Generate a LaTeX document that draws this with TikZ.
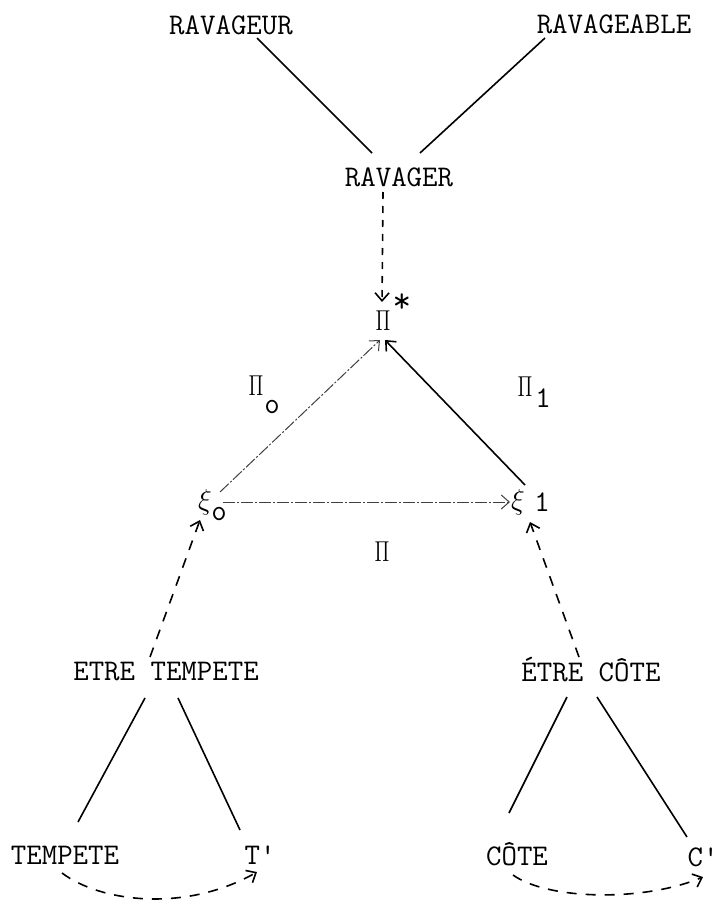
\documentclass[tikz,border=0pt]{standalone}
\usepackage{graphicx}
\usetikzlibrary{positioning, arrows.meta}

\newcommand{\narrowpi}{\scalebox{0.7}[1.0]{\(\Pi\)}}

\begin{document}
\begin{tikzpicture}[x=0.5pt, y=-0.5pt, line width=0.8pt,
  every node/.style={font=\ttfamily\fontsize{15}{18}\selectfont, inner sep=0pt},
  arrowtip/.style={-{Straight Barb[length=4pt,width=7pt]}},
  dashedarrow/.style={arrowtip, dash pattern=on 5pt off 4.5pt},
  faint/.style={line width=0.5pt, black!75, dash pattern=on 6pt off 1pt on 1pt off 1pt}]
  \useasboundingbox (0,0) rectangle (717,904);

  % top of the diagram
  \node (ravageur) at (231,25) {RAVAGEUR};
  \node (ravageable) at (614,24) {RAVAGEABLE};
  \node (ravager) at (399,177) {RAVAGER};

  % the triangle
  \node (pistar) at (383,321) {\narrowpi};
  \node (pistar-sup) [font=\ttfamily\fontsize{18}{18}\selectfont] at (402,303) {*};
  \node (pi0) at (256,386) {\narrowpi};
  \node (pi0-sub) at (272,407) {o};
  \node (pi1) at (525,387) {\narrowpi};
  \node (pi1-sub) at (543,398) {1};
  \node (xi0) at (205,502) {\(\xi\)};
  \node (xi0-sub) at (219,514) {o};
  \node (xi1) at (518,502) {\(\xi\)};
  \node (xi1-sub) at (542,502) {1};
  \node (pi) at (382,552) {\narrowpi};

  % bottom of the diagram
  \node (etretempete) at (166,672) {ETRE TEMPETE};
  \node (etrecote) at (591,670) {ÉTRE CÔTE};
  \node (tempete) at (65,855) {TEMPETE};
  \node (tprime) at (260,855) {T\textquotesingle};
  \node (cote) at (517,854) {CÔTE};
  \node (cprime) at (703,857) {C\textquotesingle};

  \draw ([shift={(26,13)}]ravageur.center) -- ([shift={(-27,-24)}]ravager.center);
  \draw ([shift={(-69,14)}]ravageable.center) -- ([shift={(21,-24)}]ravager.center);
  \draw[arrowtip, dash pattern=on 3.5pt off 3.5pt] ([shift={(-16,15)}]ravager.center) -- ([shift={(-1,-19)}]pistar.center);

  \draw[arrowtip, faint] ([shift={(15,-10)}]xi0.center) -- ([shift={(-3,19)}]pistar.center);
  \draw[arrowtip] ([shift={(7,-17)}]xi1.center) -- ([shift={(2,19)}]pistar.center);
  \draw[arrowtip, faint] ([shift={(18,0)}]xi0.center) -- ([shift={(-8,0)}]xi1.center);

  \draw[dashedarrow] ([shift={(-16,-15)}]etretempete.center) -- ([shift={(-5,18)}]xi0.center);
  \draw[dashedarrow] ([shift={(-12,-13)}]etrecote.center) -- ([shift={(12,20)}]xi1.center);

  \draw ([shift={(-21,26)}]etretempete.center) -- ([shift={(13,-33)}]tempete.center);
  \draw ([shift={(12,26)}]etretempete.center) -- ([shift={(-20,-25)}]tprime.center);
  \draw ([shift={(-24,27)}]etrecote.center) -- ([shift={(-8,-41)}]cote.center);
  \draw ([shift={(6,27)}]etrecote.center) -- ([shift={(-16,-20)}]cprime.center);

  \draw[dashedarrow] ([shift={(-3,18)}]tempete.center) .. controls +(40,30) and +(-70,40) .. ([shift={(-3,17)}]tprime.center);
  \draw[dashedarrow] ([shift={(-4,21)}]cote.center) .. controls +(35,25) and +(-60,25) .. ([shift={(0,20)}]cprime.center);
\end{tikzpicture}
\end{document}
